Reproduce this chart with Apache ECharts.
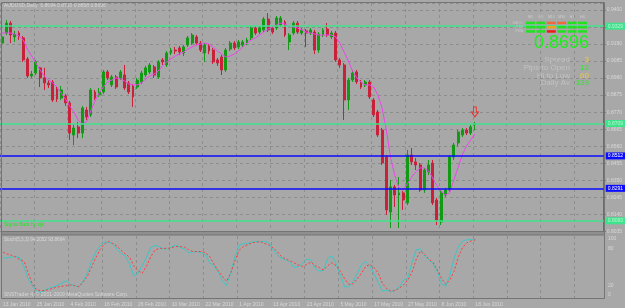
<!DOCTYPE html>
<html>
<head>
<meta charset="utf-8">
<script src="https://cdn.jsdelivr.net/npm/echarts@6/dist/echarts.min.js"></script>
<style>
  html, body { margin: 0; padding: 0; background: #a8a8a8; }
  #chart { width: 625px; height: 308px; }
</style>
</head>
<body>
<div id="chart"></div>
<script>
const dateLabels = ['13 Jan 2010', '25 Jan 2010', '4 Feb 2010', '16 Feb 2010', '26 Feb 2010', '10 Mar 2010', '22 Mar 2010',
  '1 Apr 2010', '13 Apr 2010', '23 Apr 2010', '5 May 2010', '17 May 2010', '27 May 2010', '8 Jun 2010', '18 Jun 2010']

const opens = [
  0.9196, 0.9258, 0.9319, 0.9234, 0.9258, 0.9228, 0.9098, 0.8993, 0.9011, 0.9043,
  0.8981, 0.8950, 0.8956, 0.8913, 0.8857, 0.8870, 0.8827, 0.8629, 0.8679, 0.8641,
  0.8783, 0.8753, 0.8894, 0.8876, 0.8894, 0.9018, 0.8938, 0.8987, 0.8981, 0.8999,
  0.8950, 0.8931, 0.8925, 0.8956, 0.8999, 0.9018, 0.9049, 0.8987, 0.9092, 0.9061,
  0.9135, 0.9153, 0.9166, 0.9135, 0.9184, 0.9196, 0.9234, 0.9196, 0.9135, 0.9178,
  0.9153, 0.9092, 0.9110, 0.9030, 0.9159, 0.9196, 0.9172, 0.9184, 0.9196, 0.9228,
  0.9289, 0.9264, 0.9277, 0.9344, 0.9289, 0.9289, 0.9307, 0.9326, 0.9203, 0.9258,
  0.9319, 0.9258, 0.9271, 0.9258, 0.9264, 0.9153, 0.9246, 0.9283, 0.9234, 0.9258,
  0.9092, 0.9061, 0.8845, 0.8968, 0.9018, 0.8956, 0.8938, 0.8956, 0.8845, 0.8771,
  0.8660, 0.8493, 0.8154, 0.8309, 0.8259, 0.8272, 0.8210, 0.8506, 0.8463, 0.8444,
  0.8290, 0.8401, 0.8456, 0.8228, 0.8093, 0.8259, 0.8290, 0.8493, 0.8580, 0.8629,
  0.8660, 0.8641, 0.8694
]
const closes = [
  0.9234, 0.9319, 0.9246, 0.9252, 0.9234, 0.9092, 0.8993, 0.9005, 0.9080, 0.8981,
  0.8950, 0.8938, 0.8845, 0.8851, 0.8907, 0.8827, 0.8641, 0.8672, 0.8641, 0.8796,
  0.8740, 0.8907, 0.8857, 0.8894, 0.9018, 0.8981, 0.8987, 0.8925, 0.9018, 0.8919,
  0.8894, 0.8864, 0.8968, 0.9011, 0.9043, 0.9061, 0.8999, 0.9080, 0.9080, 0.9135,
  0.9153, 0.9147, 0.9141, 0.9172, 0.9228, 0.9246, 0.9196, 0.9153, 0.9184, 0.9147,
  0.9080, 0.9073, 0.9030, 0.9153, 0.9196, 0.9166, 0.9203, 0.9203, 0.9215, 0.9289,
  0.9258, 0.9289, 0.9344, 0.9277, 0.9264, 0.9351, 0.9351, 0.9246, 0.9246, 0.9319,
  0.9264, 0.9277, 0.9258, 0.9277, 0.9153, 0.9252, 0.9277, 0.9246, 0.9258, 0.9092,
  0.9061, 0.8845, 0.8968, 0.9011, 0.8956, 0.8925, 0.8956, 0.8864, 0.8753, 0.8629,
  0.8456, 0.8167, 0.8309, 0.8259, 0.8272, 0.8228, 0.8506, 0.8463, 0.8444, 0.8290,
  0.8413, 0.8444, 0.8210, 0.8105, 0.8272, 0.8290, 0.8493, 0.8567, 0.8648, 0.8660,
  0.8641, 0.8679, 0.8696
]
const lows = [
  0.9184, 0.9246, 0.9196, 0.9203, 0.9215, 0.9080, 0.8981, 0.8981, 0.8999, 0.8925,
  0.8907, 0.8919, 0.8833, 0.8833, 0.8845, 0.8808, 0.8598, 0.8567, 0.8610, 0.8610,
  0.8722, 0.8740, 0.8845, 0.8864, 0.8882, 0.8968, 0.8925, 0.8913, 0.8968, 0.8907,
  0.8882, 0.8802, 0.8913, 0.8944, 0.8987, 0.9005, 0.8981, 0.8975, 0.9061, 0.9049,
  0.9122, 0.9128, 0.9122, 0.9116, 0.9172, 0.9184, 0.9184, 0.9141, 0.9080, 0.9128,
  0.9067, 0.9055, 0.8999, 0.9018, 0.9147, 0.9153, 0.9159, 0.9172, 0.9184, 0.9215,
  0.9246, 0.9252, 0.9264, 0.9264, 0.9252, 0.9277, 0.9295, 0.9234, 0.9153, 0.9246,
  0.9252, 0.9246, 0.9172, 0.9246, 0.9128, 0.9135, 0.9234, 0.9234, 0.9221, 0.9080,
  0.9043, 0.8722, 0.8783, 0.8956, 0.8944, 0.8913, 0.8925, 0.8851, 0.8740, 0.8617,
  0.8444, 0.8136, 0.8055, 0.8185, 0.8055, 0.8167, 0.8197, 0.8444, 0.8413, 0.8278,
  0.8272, 0.8382, 0.8197, 0.8074, 0.8074, 0.8247, 0.8278, 0.8475, 0.8561, 0.8617,
  0.8629, 0.8629, 0.8658
]
const highs = [
  0.9246, 0.9338, 0.9332, 0.9271, 0.9271, 0.9240, 0.9110, 0.9024, 0.9092, 0.9049,
  0.9043, 0.8968, 0.8968, 0.8931, 0.8931, 0.8882, 0.8839, 0.8697, 0.8710, 0.8808,
  0.8802, 0.8919, 0.8907, 0.8919, 0.9030, 0.9030, 0.8999, 0.8999, 0.9030, 0.9061,
  0.8962, 0.8944, 0.8981, 0.9024, 0.9055, 0.9073, 0.9061, 0.9092, 0.9104, 0.9147,
  0.9166, 0.9172, 0.9178, 0.9184, 0.9240, 0.9258, 0.9246, 0.9209, 0.9196, 0.9190,
  0.9166, 0.9104, 0.9122, 0.9166, 0.9209, 0.9209, 0.9215, 0.9215, 0.9228, 0.9301,
  0.9301, 0.9301, 0.9357, 0.9381, 0.9301, 0.9363, 0.9363, 0.9338, 0.9258, 0.9332,
  0.9332, 0.9289, 0.9283, 0.9289, 0.9277, 0.9264, 0.9289, 0.9319, 0.9271, 0.9271,
  0.9104, 0.9073, 0.8981, 0.9030, 0.9030, 0.8968, 0.8968, 0.8968, 0.8857, 0.8783,
  0.8672, 0.8506, 0.8352, 0.8321, 0.8370, 0.8284, 0.8537, 0.8549, 0.8487, 0.8456,
  0.8426, 0.8475, 0.8475, 0.8241, 0.8290, 0.8303, 0.8506, 0.8580, 0.8660, 0.8672,
  0.8672, 0.8691, 0.8710
]
// magenta moving average as it sits on the picture
const maValues = [
  0.9258, 0.9258, 0.9258, 0.9252, 0.9240, 0.9215, 0.9159, 0.9116, 0.9073, 0.9030,
  0.8993, 0.8968, 0.8950, 0.8925, 0.8888, 0.8851, 0.8808, 0.8771, 0.8722, 0.8697,
  0.8710, 0.8777, 0.8839, 0.8888, 0.8925, 0.8956, 0.8968, 0.8981, 0.8975, 0.8962,
  0.8944, 0.8938, 0.8938, 0.8950, 0.8975, 0.8993, 0.9005, 0.9024, 0.9055, 0.9080,
  0.9098, 0.9116, 0.9128, 0.9141, 0.9159, 0.9172, 0.9184, 0.9190, 0.9196, 0.9190,
  0.9172, 0.9147, 0.9128, 0.9110, 0.9116, 0.9128, 0.9147, 0.9172, 0.9196, 0.9215,
  0.9228, 0.9246, 0.9264, 0.9283, 0.9295, 0.9307, 0.9319, 0.9313, 0.9301, 0.9295,
  0.9289, 0.9277, 0.9264, 0.9258, 0.9252, 0.9246, 0.9246, 0.9246, 0.9246, 0.9234,
  0.9196, 0.9141, 0.9086, 0.9024, 0.8981, 0.8956, 0.8938, 0.8938, 0.8925, 0.8876,
  0.8796, 0.8660, 0.8493, 0.8382, 0.8303, 0.8290, 0.8327, 0.8370, 0.8401, 0.8426,
  0.8426, 0.8407, 0.8364, 0.8315, 0.8284, 0.8259, 0.8272, 0.8352, 0.8426, 0.8506,
  0.8561, 0.8598, 0.8635
]
const stochMain = [
  64, 65, 66, 67, 65, 50, 31, 19, 11, 9, 13, 16, 18, 21, 24, 28, 22, 20, 18, 27,
  40, 59, 74, 84, 90, 90, 88, 79, 72, 68, 55, 36, 40, 52, 65, 81, 85, 83, 79, 79,
  83, 85, 82, 79, 73, 74, 75, 73, 70, 57, 52, 43, 28, 20, 41, 67, 85, 88, 88, 90,
  91, 91, 91, 89, 78, 70, 64, 62, 58, 49, 51, 56, 63, 61, 48, 43, 45, 64, 68, 55,
  37, 18, 18, 26, 40, 54, 59, 52, 38, 25, 11, 13, 10, 13, 18, 29, 32, 58, 78, 79,
  68, 61, 55, 42, 22, 19, 38, 65, 83, 92, 94, 94, 94.2052
]
const stochSignal = [
  74, 71, 69, 66, 62, 59, 40, 22, 13, 12, 12, 14, 16, 18, 19, 20, 21, 20, 18, 26,
  35, 50, 65, 78, 87, 91, 88, 84, 77, 71, 66, 52, 44, 40, 51, 66, 77, 80, 80, 80,
  81, 83, 83, 82, 78, 75, 75, 75, 73, 67, 55, 44, 35, 27, 40, 60, 77, 83, 86, 89,
  90, 91, 88, 86, 81, 75, 67, 63, 60, 57, 53, 51, 54, 58, 52, 49, 45, 52, 57, 52,
  43, 31, 22, 23, 31, 40, 51, 54, 49, 40, 23, 15, 11, 12, 16, 21, 29, 42, 63, 76,
  70, 63, 57, 45, 31, 22, 30, 44, 67, 82, 89, 92, 93.8664
]
const levelValues = [0.9329, 0.8709, 0.8512, 0.8291, 0.8093]
const levelKinds = ['green', 'green', 'blue', 'blue', 'green']
const stochLevels = [0, 20, 80, 100]

const signalHeads = ['M1', 'M5', 'M15', 'M30', 'H1', 'H4']
const signalRowNames = ['MACD', 'STR', 'EMA']
const signalCells = [
  ['up', 'up', 'dn', 'dn', 'up', 'up'],
  ['up', 'up', 'mid', 'up', 'up', 'up'],
  ['up', 'up', 'red', 'up', 'up', 'up'],
]
const lastPrice = '0.8696'
const infoNames = ['Spread', 'Pips to Open', 'Hi to Low', 'Daily Av']
const infoValues = ['3', '12', '60', '139']
const infoKinds = ['gold', 'green', 'gold', 'green']

const TOTAL_BARS = 143
const FG = '#d8d8d8'
const GRIDLINE = '#8d8d8d'
const FONT = '"Liberation Sans", Arial, sans-serif'

const categories = Array.from({ length: TOTAL_BARS }, (_, i) => String(i))
const candles = opens.map((o, i) => [o, closes[i], lows[i], highs[i]])
const lastIdx = String(opens.length - 1)

const levelColor = { green: '#3fe38c', blue: '#0b0bff' }
const levelText = { green: '#b9f5d2', blue: '#ffffff' }
const cellColor = { up: '#1fe31f', dn: '#ee6a3a', mid: '#f0a21c', red: '#ee1a1a' }
const valueColor = { gold: '#f0c833', green: '#2ee82e' }

const dateTick = (i) => i % 8 === 0 && i / 8 < dateLabels.length

const graphics = []
// window frame and the band between main and sub window
graphics.push({ type: 'rect', z: 100, silent: true, shape: { x: 1.5, y: 2.5, width: 603, height: 296 },
  style: { fill: 'transparent', stroke: '#747474', lineWidth: 1 } })
graphics.push({ type: 'rect', z: 100, silent: true, shape: { x: 1.5, y: 231.5, width: 603, height: 3.5 },
  style: { fill: '#8e8e8e', stroke: '#747474', lineWidth: 1 } })

graphics.push({ type: 'text', z: 100, x: 4, y: 6, style: { text: 'AUDUSD,Daily  0.8694 0.8710 0.8658 0.8696',
  fill: FG, font: '5px ' + FONT, verticalAlign: 'middle' } })
graphics.push({ type: 'text', z: 100, x: 4, y: 225, style: { text: 'Signal Bars by cja',
  fill: '#22e622', font: '5px ' + FONT, verticalAlign: 'middle' } })
graphics.push({ type: 'text', z: 100, x: 4, y: 240, style: { text: 'Stoch(5,3,3) 94.2052 93.8664',
  fill: FG, font: '4.6px ' + FONT, verticalAlign: 'middle' } })
graphics.push({ type: 'text', z: 100, x: 4, y: 294.5, style: { text: 'SNSTrader 4, \u00a9 2001-2009 MetaQuotes Software Corp.',
  fill: FG, font: '5px ' + FONT, verticalAlign: 'middle' } })

// signal bars panel
const cellX0 = 526
const cellPitch = 10.4
const rowY = [21.7, 26, 30.2]
signalHeads.forEach((h, c) => {
  graphics.push({ type: 'text', z: 100, x: cellX0 + c * cellPitch + 4.5, y: 17,
    style: { text: h, fill: '#cfcfcf', font: '3.5px ' + FONT, align: 'center', verticalAlign: 'middle' } })
})
signalRowNames.forEach((n, r) => {
  graphics.push({ type: 'text', z: 100, x: 523, y: rowY[r] + 1.2,
    style: { text: n, fill: '#c4c4c4', font: '3.5px ' + FONT, align: 'right', verticalAlign: 'middle' } })
})
signalCells.forEach((row, r) => {
  row.forEach((kind, c) => {
    graphics.push({ type: 'rect', z: 100, silent: true,
      shape: { x: cellX0 + c * cellPitch, y: rowY[r], width: 9, height: 2.5 },
      style: { fill: cellColor[kind] } })
  })
})
graphics.push({ type: 'text', z: 100, x: 589, y: 43.5, style: { text: lastPrice, fill: '#19f019',
  font: '18px ' + FONT, align: 'right', verticalAlign: 'middle' } })
const infoY = [60, 67.8, 75.5, 83]
infoNames.forEach((n, k) => {
  graphics.push({ type: 'text', z: 100, x: 570, y: infoY[k], style: { text: n, fill: '#c2c2c2',
    font: '8px ' + FONT, align: 'right', verticalAlign: 'middle' } })
  graphics.push({ type: 'text', z: 100, x: 589, y: infoY[k], style: { text: infoValues[k], fill: valueColor[infoKinds[k]],
    font: '8px ' + FONT, align: 'right', verticalAlign: 'middle' } })
})

const chart = echarts.init(document.getElementById('chart'))
chart.setOption({
  animation: false,
  backgroundColor: '#a8a8a8',
  textStyle: { fontFamily: FONT },
  grid: [
    { left: 0, top: 3, width: 604, height: 228.3 },
    { left: 0, top: 236, width: 604, height: 62 },
  ],
  xAxis: [
    {
      type: 'category', gridIndex: 0, data: categories, boundaryGap: true,
      axisLine: { show: false }, axisTick: { show: false }, axisLabel: { show: false },
      splitLine: { show: true, interval: (i) => i % 8 === 0, lineStyle: { color: GRIDLINE, type: [3, 3] } },
    },
    {
      type: 'category', gridIndex: 1, data: categories, boundaryGap: true,
      axisLine: { show: false },
      axisTick: { show: false },
      axisLabel: {
        show: true, interval: (i) => dateTick(i), align: 'left', fontSize: 5, color: FG, margin: 4,
        formatter: (v) => dateLabels[Number(v) / 8] || '',
      },
      splitLine: { show: true, interval: (i) => i % 8 === 0, lineStyle: { color: GRIDLINE, type: [3, 3] } },
    },
  ],
  yAxis: [
    {
      type: 'value', gridIndex: 0, position: 'right', min: 0.8035, max: 0.94432, interval: 0.0105,
      axisLine: { show: true, lineStyle: { color: '#6c6c6c' } },
      axisTick: { show: true, length: 2, lineStyle: { color: '#6c6c6c' } },
      axisLabel: { fontSize: 5, color: FG, margin: 3, showMaxLabel: false, formatter: (v) => v.toFixed(4) },
      splitLine: { show: true, lineStyle: { color: GRIDLINE, type: [3, 3] } },
    },
    {
      type: 'value', gridIndex: 1, position: 'right', min: 0, max: 100, interval: 20,
      axisLine: { show: true, lineStyle: { color: '#6c6c6c' } },
      axisTick: { show: false },
      axisLabel: {
        fontSize: 5, color: FG, margin: 4,
        formatter: (v) => {
          if (!stochLevels.includes(v)) return ''
          if (v === 100) return '{top|100}'
          if (v === 0) return '{bot|0}'
          return String(v)
        },
        rich: {
          top: { fontSize: 5, color: FG, padding: [6, 0, 0, 0] },
          bot: { fontSize: 5, color: FG, padding: [0, 0, 6, 0] },
        },
      },
      splitLine: { show: false },
    },
  ],
  series: [
    {
      name: 'AUDUSD', type: 'candlestick', xAxisIndex: 0, yAxisIndex: 0,
      data: candles, barWidth: 2.4,
      itemStyle: { color: '#129a14', color0: '#c9213a', borderColor: '#129a14', borderColor0: '#c9213a', borderWidth: 1 },
      markLine: {
        silent: true, symbol: ['none', 'none'], animation: false,
        lineStyle: { type: 'solid', width: 1.6 },
        data: levelValues.map((v, k) => ({
          yAxis: v,
          lineStyle: { color: levelColor[levelKinds[k]], width: 1.6, type: 'solid' },
          label: {
            show: true, position: 'end', distance: 2, formatter: v.toFixed(4), fontSize: 5,
            color: levelText[levelKinds[k]], backgroundColor: levelColor[levelKinds[k]], padding: [1, 2, 1, 2],
          },
        })),
      },
      markPoint: {
        silent: true, animation: false,
        symbol: 'path://M3,0 L7,0 L7,6 L10,6 L5,12 L0,6 L3,6 Z',
        symbolSize: [7, 10],
        itemStyle: { color: 'rgba(0,0,0,0)', borderColor: '#e4302a', borderWidth: 1 },
        label: { show: false },
        data: [{ coord: [lastIdx, 0.8771] }],
      },
    },
    {
      name: 'MA', type: 'line', xAxisIndex: 0, yAxisIndex: 0, data: maValues,
      showSymbol: false, symbol: 'none', z: 3,
      lineStyle: { color: '#f044ee', width: 1 },
    },
    {
      name: 'Main', type: 'line', xAxisIndex: 1, yAxisIndex: 1, data: stochMain,
      showSymbol: false, symbol: 'none',
      lineStyle: { color: '#3cc6c6', width: 1 },
    },
    {
      name: 'Signal', type: 'line', xAxisIndex: 1, yAxisIndex: 1, data: stochSignal,
      showSymbol: false, symbol: 'none',
      lineStyle: { color: '#ff3a3a', width: 1, type: [2, 2] },
    },
  ],
  graphic: graphics,
})
</script>
</body>
</html>
